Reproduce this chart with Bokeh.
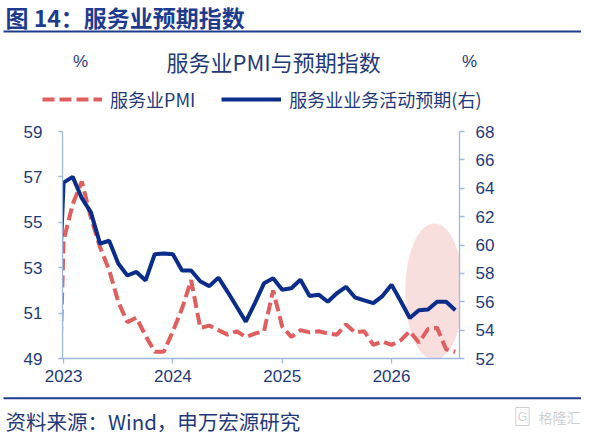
from bokeh.plotting import figure
from bokeh.layouts import column
from bokeh.models import Range1d, LinearAxis, FixedTicker, Label, Legend, LegendItem, BoxAnnotation
from bokeh.embed import file_html
from bokeh.resources import INLINE

# ---------------- data ----------------
months = ["2022-12"] + [f"{y}-{m:02d}" for y in (2023, 2024, 2025, 2026) for m in range(1, 13)]
months = months[:45]  # 2022-12 .. 2026-08

# 服务业PMI (left axis, %)
pmi = [39.4,
       54.2, 55.8, 56.8, 55.2, 53.9, 52.9, 51.5, 50.6, 50.8, 50.0, 49.3, 49.3,
       50.2, 51.2, 52.45, 50.35, 50.45, 50.25, 50.05, 50.2, 49.95, 50.1, 50.2, 52.0,
       50.4, 49.95, 50.25, 50.15, 50.2, 50.1, 50.05, 50.5, 50.15, 50.2, 49.6, 49.75,
       49.6, 49.8, 50.2, 49.7, 50.3, 50.35, 49.4, 49.3]

# 服务业业务活动预期 (right axis, %)
expect = [49.0,
          64.4, 64.8, 63.3, 62.3, 60.1, 60.3, 58.7, 57.85, 58.1, 57.5, 59.35, 59.4,
          59.35, 58.2, 58.2, 57.45, 57.1, 57.7, 56.7, 55.65, 54.6, 55.9, 57.3, 57.65,
          56.85, 56.95, 57.55, 56.4, 56.5, 56.0, 56.6, 57.05, 56.3, 56.1, 55.9, 56.4,
          57.2, 56.05, 54.85, 55.4, 55.45, 56.0, 56.0, 55.4]

x_tick_months = ["2023-01", "2024-01", "2025-01", "2026-01"]
x_tick_labels = ["2023", "2024", "2025", "2026"]
left_ticks = [49, 51, 53, 55, 57, 59]
right_ticks = [52, 54, 56, 58, 60, 62, 64, 66, 68]

series_names = ["服务业PMI", "服务业业务活动预期(右)"]

# month index relative to 2023-01
xs = [months.index(m) - 1 for m in months]
tick_x = [months.index(m) - 1 for m in x_tick_months]

# ---------------- styles ----------------
CJK = "Noto Sans CJK SC"
LAT = "Liberation Sans"
NAVY = "#1F3A7A"
TITLE_BLUE = "#1D3C8F"
RED = "#E15E5E"
BLUE = "#0A2D8C"
AXIS_C = "#9DB9DE"
W = 581


def no_align(f):
    try:
        f.frame_align = False
    except Exception:
        pass


def blank_fig(h):
    f = figure(width=W, height=h, x_range=Range1d(0, W), y_range=Range1d(h, 0),
               x_axis_location=None, y_axis_location=None, min_border=0,
               output_backend="svg", toolbar_location=None,
               background_fill_color="white", border_fill_color="white")
    f.outline_line_color = None
    f.xgrid.visible = False
    f.ygrid.visible = False
    no_align(f)
    return f


def lab(f, text, x, y, size, color=NAVY, font=CJK, align="left", bold=False, **kw):
    f.add_layout(Label(text=text, x=x, y=y, text_font=font, text_font_size=size,
                       text_color=color, text_align=align, text_baseline="middle",
                       text_font_style="bold" if bold else "normal", **kw))


# ---------------- header ----------------
head = blank_fig(122)
lab(head, "图 14：服务业预期指数", 5, 16, "23px", TITLE_BLUE, bold=True)
head.add_layout(BoxAnnotation(left=3, right=W, top=30, bottom=32,
                              fill_color=TITLE_BLUE, fill_alpha=1, line_color=None))
lab(head, "服务业PMI与预期指数", 166, 60, "22px")
lab(head, "%", 80, 61, "17px", font=LAT, align="center")
lab(head, "%", 469, 61, "17px", font=LAT, align="center")

# legend proxies (single point, so nothing is drawn in the header itself)
r_leg = head.line([-50], [-50], line_color=RED, line_width=4, line_dash="12 5")
b_leg = head.line([-50], [-50], line_color=BLUE, line_width=4)
legend = Legend(items=[LegendItem(label=series_names[0], renderers=[r_leg]),
                       LegendItem(label=series_names[1], renderers=[b_leg])],
                orientation="horizontal", location=(42, 10),
                glyph_width=60, glyph_height=20, label_standoff=8, spacing=26,
                padding=0, margin=0, border_line_color=None, background_fill_alpha=0,
                label_text_font=CJK, label_text_font_size="18px", label_text_color=NAVY)
head.add_layout(legend, "center")

# ---------------- main chart ----------------
p = figure(frame_width=397, frame_height=227,
           min_border_left=62, min_border_right=W - 459, min_border_top=9, min_border_bottom=34,
           x_range=Range1d(-0.12, 43.46), y_range=Range1d(49, 59),
           output_backend="svg", toolbar_location=None,
           background_fill_color="white", border_fill_color="white")
p.outline_line_color = None
p.xgrid.visible = False
p.ygrid.visible = False
p.extra_y_ranges = {"r": Range1d(52, 68)}
no_align(p)

# highlight ellipse
p.ellipse(x=40.7, y=51.95, width=6.4, height=6.0, fill_color="#F9DEDE", line_color=None)

red = p.line(xs, pmi, line_color=RED, line_width=4, line_dash="12 5")
blue = p.line(xs, expect, line_color=BLUE, line_width=4, y_range_name="r")


def style_axis(ax, tick_out, standoff):
    ax.axis_line_color = AXIS_C
    ax.axis_line_width = 1.3
    ax.major_tick_line_color = AXIS_C
    ax.major_tick_line_width = 1.3
    ax.major_tick_out = tick_out
    ax.major_tick_in = 0
    ax.minor_tick_line_color = None
    ax.major_label_text_font = LAT
    ax.major_label_text_font_size = "17px"
    ax.major_label_text_color = NAVY
    ax.major_label_standoff = standoff


p.yaxis.ticker = FixedTicker(ticks=left_ticks)
style_axis(p.yaxis[0], 4, 16)

p.xaxis.ticker = FixedTicker(ticks=tick_x)
p.xaxis.major_label_overrides = {t: l for t, l in zip(tick_x, x_tick_labels)}
style_axis(p.xaxis[0], 5, 6)

rax = LinearAxis(y_range_name="r", ticker=FixedTicker(ticks=right_ticks))
style_axis(rax, 5, 11)
p.add_layout(rax, "right")

# ---------------- footer ----------------
foot = blank_fig(44)
foot.add_layout(BoxAnnotation(left=3, right=W, top=4.8, bottom=6.8,
                              fill_color=TITLE_BLUE, fill_alpha=1, line_color=None))
lab(foot, "资料来源：Wind，申万宏源研究", 5, 28, "20.5px")
lab(foot, "格隆汇", 538, 24, "14px", "#CFCFCF")
lab(foot, "G", 522, 24, "12px", "#CFCFCF", font=LAT, align="center",
    border_line_color="#CFCFCF", padding=2)

layout = column(head, p, foot, spacing=0)
open("out.html", "w").write(file_html(layout, INLINE))
